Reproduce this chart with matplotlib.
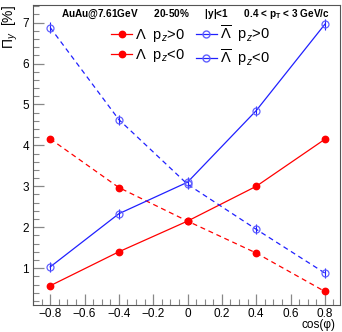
import matplotlib
matplotlib.use("Agg")
import matplotlib.pyplot as plt
from matplotlib.lines import Line2D
from matplotlib.ticker import MultipleLocator

plt.rcParams['font.family'] = ['Liberation Sans', 'DejaVu Sans']
plt.rcParams['mathtext.fontset'] = 'custom'
plt.rcParams['mathtext.rm'] = 'Liberation Sans'
plt.rcParams['mathtext.it'] = 'Liberation Sans:italic'
plt.rcParams['mathtext.bf'] = 'Liberation Sans:bold'

# data
cosphi = [-0.8, -0.4, 0.0, 0.4, 0.8]
lam_pos = [0.57, 1.40, 2.15, 3.00, 4.15]
lam_neg = [4.16, 2.97, 2.15, 1.37, 0.43]
alam_pos = [1.03, 2.33, 3.10, 4.85, 6.96]
alam_neg = [6.88, 4.63, 3.05, 1.95, 0.88]
alam_pos_err = [0.12, 0.12, 0.12, 0.12, 0.13]
alam_neg_err = [0.13, 0.12, 0.12, 0.12, 0.12]
xticks = [-0.8, -0.6, -0.4, -0.2, 0, 0.2, 0.4, 0.6, 0.8]
xticklabels = ['\u22120.8', '\u22120.6', '\u22120.4', '\u22120.2', '0', '0.2', '0.4', '0.6', '0.8']
yticks = [1, 2, 3, 4, 5, 6, 7]

RED = '#ff0000'
BLUE = '#2020ff'
BLUE_M = '#6060ff'

W, H = 342, 332
fig = plt.figure(figsize=(W / 100, H / 100), dpi=100)
L, R, T, B = 33, 340, 5, 305
ax = fig.add_axes([L / W, (H - B) / H, (R - L) / W, (B - T) / H])

ax.plot(cosphi, lam_pos, color=RED, lw=0.9, marker='o', ms=4.6, mfc=RED, mec=RED, ls='-')
ax.plot(cosphi, lam_neg, color=RED, lw=0.9, marker='o', ms=4.6, mfc=RED, mec=RED, ls=(0, (4, 3)))
ax.errorbar(cosphi, alam_pos, yerr=alam_pos_err, color=BLUE, lw=0.9, marker='o', ms=5,
            mfc='none', mec=BLUE_M, mew=0.9, ls='-', elinewidth=0.8, capsize=0, ecolor=BLUE)
ax.errorbar(cosphi, alam_neg, yerr=alam_neg_err, color=BLUE, lw=0.9, marker='o', ms=5,
            mfc='none', mec=BLUE_M, mew=0.9, ls=(0, (4, 3)), elinewidth=0.8, capsize=0, ecolor=BLUE)

ax.set_xlim(-0.9, 0.888)
ax.set_ylim(0.1, 7.43)
ax.set_xticks(xticks)
ax.set_xticklabels(xticklabels)
ax.set_yticks(yticks)
ax.xaxis.set_minor_locator(MultipleLocator(0.05))
ax.yaxis.set_minor_locator(MultipleLocator(0.2))
ax.tick_params(which='both', direction='in', colors='#888888', labelcolor='black', labelsize=8.5,
               top=False, right=False)
ax.tick_params(which='major', length=8, width=0.9)
ax.tick_params(which='minor', length=4, width=0.8)
ax.tick_params(axis='x', pad=2)
ax.tick_params(axis='y', pad=3)
for s in ax.spines.values():
    s.set_color('#555555')
    s.set_linewidth(0.8)

fig.text(336 / W, (H - 325) / H, 'cos(\u03c6)', ha='right', va='center', fontsize=8.5)
fig.text(10 / W, (H - 5) / H, r'$\Pi_{y}$  [%]', rotation=90, ha='center', va='top', fontsize=10)

fig.text(61 / W, (H - 14) / H,
         r'AuAu@7.61GeV      20-50%      |y|<1      0.4 < $\mathbf{p_{T}}$ < 3 GeV/c',
         ha='left', va='center', fontsize=7.2, fontweight='bold')

handles = [
    Line2D([], [], color=RED, lw=0.9, marker='o', ms=4.6, mfc=RED, mec=RED),
    Line2D([], [], color=RED, lw=0.9, marker='o', ms=4.6, mfc=RED, mec=RED),
    Line2D([], [], color=BLUE, lw=0.9, marker='o', ms=5, mfc='none', mec=BLUE_M),
    Line2D([], [], color=BLUE, lw=0.9, marker='o', ms=5, mfc='none', mec=BLUE_M),
]
labels = [r'$\Lambda$  p$_{z}$>0', r'$\Lambda$  p$_{z}$<0',
          r'$\overline{\Lambda}$  p$_{z}$>0', r'$\overline{\Lambda}$  p$_{z}$<0']
leg = ax.legend(handles, labels, ncol=2, frameon=False, fontsize=10.5,
                loc='upper left', bbox_to_anchor=((111 - L) / (R - L), (B - 23) / (B - T)),
                handlelength=1.45, handletextpad=0.2, columnspacing=0.75, labelspacing=0.25,
                borderpad=0, borderaxespad=0)

fig.savefig('out.png', dpi=100)
